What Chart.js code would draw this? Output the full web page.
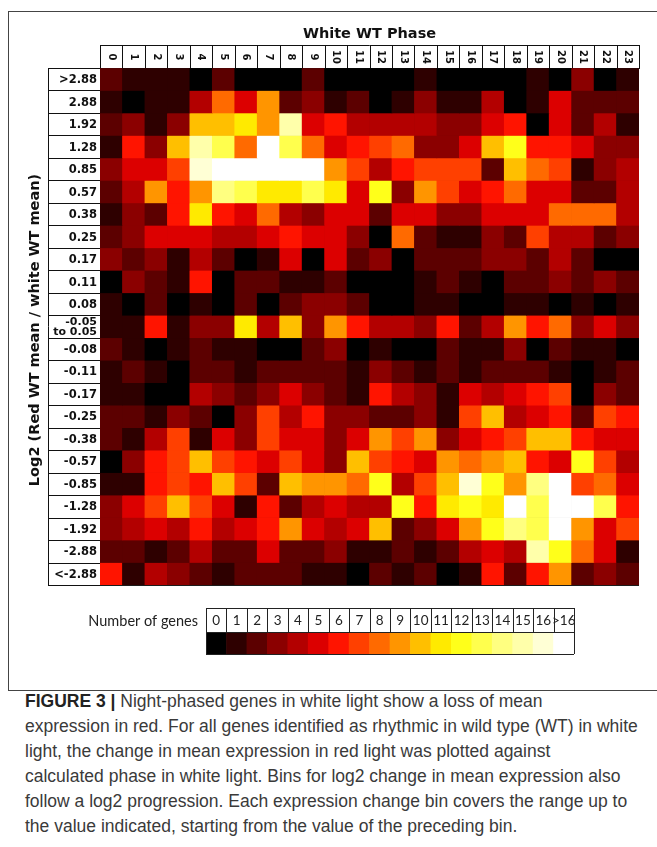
<!DOCTYPE html>
<html>
<head>
<meta charset="utf-8">
<script src="https://cdn.jsdelivr.net/npm/chart.js@4.4.0/dist/chart.umd.min.js"></script>
<style>
  html, body { margin: 0; padding: 0; background: #fff; width: 657px; height: 847px; overflow: hidden; }
  #frame { position: absolute; left: 8px; top: 11px; width: 700px; height: 678px; border: 1px solid #444; }
  #heat { position: absolute; left: 0; top: 0; }
  #key { position: absolute; left: 0; top: 596px; }
  #caption { position: absolute; left: 25px; top: 689px; font-family: "Liberation Sans Narrow", "Liberation Sans", sans-serif;
             font-size: 17.5px; line-height: 25px; color: #3a3a3a; white-space: nowrap; }
  #caption b { color: #222; }
</style>
</head>
<body>
<div id="frame"></div>
<canvas id="heat" width="657" height="600"></canvas>
<canvas id="key" width="657" height="70"></canvas>
<div id="caption"><b>FIGURE 3 |</b> Night-phased genes in white light show a loss of mean<br>expression in red. For all genes identified as rhythmic in wild type (WT) in white<br>light, the change in mean expression in red light was plotted against<br>calculated phase in white light. Bins for log2 change in mean expression also<br>follow a log2 progression. Each expression change bin covers the range up to<br>the value indicated, starting from the value of the preceding bin.</div>
<script>
// White WT phase (columns)
const phases = ['0','1','2','3','4','5','6','7','8','9','10','11','12','13','14','15','16','17','18','19','20','21','22','23'];

// Log2 change bins (rows, top to bottom)
const binLabels = ['>2.88','2.88','1.92','1.28','0.85','0.57','0.38','0.25','0.17','0.11','0.08','-0.05\nto 0.05',
  '-0.08','-0.11','-0.17','-0.25','-0.38','-0.57','-0.85','-1.28','-1.92','-2.88','<-2.88'];

// Colour key: number of genes per cell (17 = ">16")
const countLabels = ['0','1','2','3','4','5','6','7','8','9','10','11','12','13','14','15','16','>16'];
const countColors = ['#000000','#2e0000','#5c0000','#8b0000','#b30000','#dc0000','#ff1400','#ff4000','#ff6a00',
  '#ff9500','#ffbf00','#ffea00','#ffff1a','#ffff4d','#ffff80','#ffffaa','#ffffd5','#ffffff'];

// Number of genes per bin (row) and phase (column)
const geneCounts = [
  [2,1,1,1,0,2,0,0,0,2,0,0, 0,0,1,0,0,0,0,1,0,3,0,1],
  [1,0,1,1,4,8,5,9,2,3,1,2, 0,1,3,1,1,4,0,1,5,2,2,2],
  [2,3,1,3,10,10,11,9,15,5,6,4, 4,4,4,3,3,5,6,0,5,2,4,1],
  [1,6,3,10,15,13,8,17,13,8,5,6, 7,8,3,3,5,10,12,6,6,5,3,3],
  [3,5,5,7,16,17,17,17,17,17,9,7, 4,6,7,7,7,2,10,8,7,1,3,4],
  [2,4,9,6,9,14,13,11,11,13,11,5, 12,3,9,7,5,6,8,5,5,2,2,4],
  [1,3,2,6,11,6,5,8,4,3,5,5, 2,5,5,3,3,5,5,5,8,8,8,4],
  [2,3,5,5,5,4,4,5,6,5,5,3, 0,8,2,1,1,3,2,7,4,4,2,3],
  [3,2,3,1,4,2,0,1,5,0,5,2, 3,0,2,2,2,3,3,2,4,2,0,0],
  [0,3,2,1,6,0,2,2,1,1,2,0, 0,0,1,2,1,0,2,2,3,2,3,2],
  [1,0,2,0,1,0,2,0,2,3,3,2, 0,0,1,1,0,0,1,1,0,1,0,1],
  [1,1,6,1,3,3,11,4,10,3,9,6, 4,4,3,6,2,4,9,6,8,3,5,3],
  [2,1,0,1,2,1,1,0,0,2,3,0, 1,0,0,2,1,1,3,0,2,1,1,0],
  [1,2,1,0,2,2,1,2,2,2,2,1, 3,2,1,2,1,2,2,2,1,0,1,2],
  [1,1,0,0,4,3,2,3,5,3,2,1, 6,4,3,1,5,4,5,6,7,0,3,2],
  [2,2,1,3,2,0,3,7,4,6,3,3, 2,2,3,1,7,10,4,5,6,2,7,6],
  [2,1,4,7,1,5,3,7,5,5,3,5, 9,7,9,3,5,6,7,10,10,6,5,5],
  [0,3,6,7,10,7,6,5,7,5,3,10, 7,6,5,9,8,9,10,6,5,12,7,4],
  [1,1,6,7,6,10,7,2,10,9,9,8, 12,4,7,10,16,12,9,14,17,7,8,5],
  [3,5,7,10,7,5,1,6,2,4,5,4, 4,12,6,11,12,11,17,13,17,17,13,6],
  [3,4,5,4,6,4,5,6,9,5,4,5, 10,2,3,5,9,12,14,13,17,9,5,7],
  [2,2,1,2,4,2,2,5,2,2,3,1, 1,2,1,2,4,5,4,15,12,8,5,1],
  [6,1,4,3,2,1,2,2,2,1,1,0, 2,1,2,0,1,6,2,6,9,2,3,2]
];

const labelFont = '"DejaVu Sans", Verdana, sans-serif';

// Draws the boxed phase labels on top, the boxed bin labels on the left and the two titles
const heatLabels = {
  id: 'heatLabels',
  afterDraw(chart) {
    const { ctx, chartArea, scales: { x, y } } = chart;
    const colW = (chartArea.right - chartArea.left) / phases.length;
    const headTop = 45;
    const rowLeft = 48;
    ctx.save();
    ctx.strokeStyle = '#111';
    ctx.lineWidth = 1;
    ctx.fillStyle = '#111';

    // header row
    ctx.beginPath();
    ctx.moveTo(chartArea.left, headTop + 0.5);
    ctx.lineTo(chartArea.right, headTop + 0.5);
    for (let i = 0; i <= phases.length; i++) {
      const px = Math.round(chartArea.left + i * colW) + 0.5;
      ctx.moveTo(px, headTop);
      ctx.lineTo(px, chartArea.top);
    }
    ctx.stroke();
    ctx.font = 'bold 10px ' + labelFont;
    ctx.textAlign = 'center';
    ctx.textBaseline = 'middle';
    phases.forEach((p, i) => {
      ctx.save();
      ctx.translate(x.getPixelForValue(i), (headTop + chartArea.top) / 2 + 0.5);
      ctx.rotate(Math.PI / 2);
      ctx.fillText(p, 0, 0);
      ctx.restore();
    });

    // bin label column
    ctx.beginPath();
    ctx.moveTo(rowLeft + 0.5, chartArea.top);
    ctx.lineTo(rowLeft + 0.5, chartArea.bottom);
    for (let r = 0; r <= binLabels.length; r++) {
      const py = Math.round(y.getPixelForValue(r)) + 0.5;
      ctx.moveTo(rowLeft, py);
      ctx.lineTo(chartArea.left, py);
    }
    ctx.stroke();
    ctx.textAlign = 'right';
    binLabels.forEach((b, r) => {
      const cy = (y.getPixelForValue(r) + y.getPixelForValue(r + 1)) / 2 + 1;
      const lines = b.split('\n');
      ctx.font = 'bold ' + (lines.length > 1 ? 11 : 11.5) + 'px ' + labelFont;
      lines.forEach((l, k) => {
        ctx.fillText(l, chartArea.left - 3, cy + (k - (lines.length - 1) / 2) * 10);
      });
    });

    // titles
    ctx.font = 'bold 14.5px ' + labelFont;
    ctx.textAlign = 'center';
    ctx.fillText('White WT Phase', (chartArea.left + chartArea.right) / 2, 34);
    ctx.save();
    ctx.translate(35, 330);
    ctx.rotate(-Math.PI / 2);
    ctx.fillText('Log2 (Red WT mean / white WT mean)', 0, 0);
    ctx.restore();
    ctx.restore();
  }
};

new Chart(document.getElementById('heat'), {
  type: 'bar',
  data: {
    labels: phases,
    datasets: geneCounts.map((row, r) => ({
      label: binLabels[r],
      data: row.map(() => [r, r + 1]),
      backgroundColor: row.map(c => countColors[c]),
      borderWidth: 0,
      grouped: false,
      barPercentage: 1,
      categoryPercentage: 1
    }))
  },
  options: {
    responsive: false,
    animation: false,
    layout: { padding: { left: 100, top: 68, right: 18, bottom: 15 } },
    plugins: { legend: { display: false }, tooltip: { enabled: false } },
    scales: {
      x: {
        position: 'top', z: 1,
        grid: { color: '#1c1c1c', offset: true, drawTicks: false },
        border: { color: '#1c1c1c' },
        ticks: { display: false },
        afterFit: s => { s.height = 0; }
      },
      y: {
        min: 0, max: binLabels.length, reverse: true, z: 1,
        grid: { color: '#1c1c1c', drawTicks: false },
        border: { color: '#1c1c1c' },
        ticks: { display: false, stepSize: 1 },
        afterFit: s => { s.width = 0; }
      }
    }
  },
  plugins: [heatLabels]
});

// Colour key boxes and caption
const keyLabels = {
  id: 'keyLabels',
  afterDraw(chart) {
    const { ctx, chartArea, scales: { x } } = chart;
    const cellW = (chartArea.right - chartArea.left) / countLabels.length;
    const headTop = 12;
    ctx.save();
    ctx.strokeStyle = '#222';
    ctx.lineWidth = 1;
    ctx.beginPath();
    ctx.moveTo(chartArea.left, headTop + 0.5);
    ctx.lineTo(chartArea.right, headTop + 0.5);
    ctx.moveTo(chartArea.left, Math.round(chartArea.top) + 0.5);
    ctx.lineTo(chartArea.right, Math.round(chartArea.top) + 0.5);
    ctx.moveTo(chartArea.left, Math.round(chartArea.bottom) + 0.5);
    ctx.lineTo(chartArea.right, Math.round(chartArea.bottom) + 0.5);
    for (let i = 0; i <= countLabels.length; i++) {
      const px = Math.round(chartArea.left + i * cellW) + 0.5;
      const bottom = (i === 0 || i === countLabels.length) ? chartArea.bottom : chartArea.top;
      ctx.moveTo(px, headTop);
      ctx.lineTo(px, bottom);
    }
    ctx.stroke();
    ctx.fillStyle = '#222';
    ctx.font = '13.5px Lato, sans-serif';
    ctx.textAlign = 'center';
    ctx.textBaseline = 'middle';
    countLabels.forEach((c, i) => {
      ctx.fillText(c, x.getPixelForValue(i), (headTop + chartArea.top) / 2 + 1);
    });
    ctx.font = '14.5px Lato, sans-serif';
    ctx.textAlign = 'right';
    ctx.fillText('Number of genes', chartArea.left - 8, 25);
    ctx.restore();
  }
};

new Chart(document.getElementById('key'), {
  type: 'bar',
  data: {
    labels: countLabels,
    datasets: [{
      data: countLabels.map(() => 1),
      backgroundColor: countColors,
      borderWidth: 0,
      barPercentage: 1,
      categoryPercentage: 1
    }]
  },
  options: {
    responsive: false,
    animation: false,
    layout: { padding: { left: 206, right: 83, top: 36, bottom: 12 } },
    plugins: { legend: { display: false }, tooltip: { enabled: false } },
    scales: {
      x: { grid: { display: false }, border: { display: false }, ticks: { display: false }, afterFit: s => { s.height = 0; } },
      y: { min: 0, max: 1, display: false }
    }
  },
  plugins: [keyLabels]
});
</script>
</body>
</html>
